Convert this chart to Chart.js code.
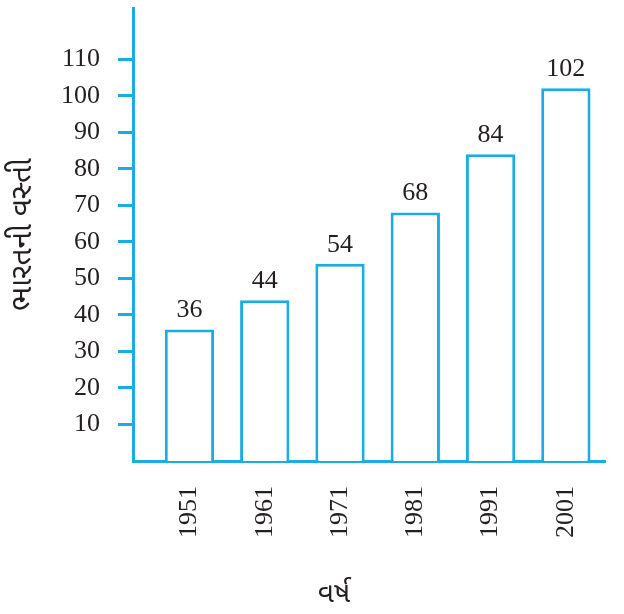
<!DOCTYPE html>
<html>
<head>
<meta charset="utf-8">
<script src="https://cdn.jsdelivr.net/npm/chart.js@4/dist/chart.umd.min.js"></script>
<style>
  html, body { margin: 0; padding: 0; background: #fff; }
  #wrap { width: 624px; height: 614px; }
</style>
</head>
<body>
<div id="wrap"><canvas id="chartPop" width="624" height="614"></canvas></div>
<script>
const years = [1951, 1961, 1971, 1981, 1991, 2001];
const population = [36, 44, 54, 68, 84, 102];
const yTicks = [10, 20, 30, 40, 50, 60, 70, 80, 90, 100, 110];
const yTitle = "ભારતની વસ્તી";
const xTitle = "વર્ષ";

const CYAN = "#1aace3";
const INK = "#231f20";
const NUM_FONT = "'Liberation Serif', 'Times New Roman', Times, serif";
const GU_FONT = "'Noto Sans Gujarati', 'Noto Serif Gujarati', 'Noto Sans', sans-serif";

const barLabels = {
    id: "barLabels",
    afterDatasetsDraw(chart) {
        const { ctx } = chart;
        const meta = chart.getDatasetMeta(0);
        ctx.save();
        ctx.font = "26px " + NUM_FONT;
        ctx.fillStyle = INK;
        ctx.textAlign = "center";
        ctx.textBaseline = "bottom";
        meta.data.forEach((bar, i) => {
            ctx.fillText(String(population[i]), bar.x, bar.y - 6);
        });
        ctx.restore();
    },
};

function draw() {
    new Chart(document.getElementById("chartPop"), {
        type: "bar",
        data: {
            datasets: [{
                data: years.map((y, i) => ({ x: y, y: population[i] })),
                backgroundColor: "#ffffff",
                borderColor: CYAN,
                borderWidth: 3,
                barPercentage: 0.655,
                categoryPercentage: 1,
            }],
        },
        options: {
            responsive: false,
            animation: false,
            layout: { padding: { top: 8, right: 19, left: 0, bottom: 0 } },
            plugins: { legend: { display: false }, tooltip: { enabled: false } },
            scales: {
                x: {
                    type: "linear",
                    offset: false,
                    min: 1943.5,
                    max: 2006.2,
                    afterBuildTicks: s => { s.ticks = years.map(v => ({ value: v })); },
                    afterFit: s => { s.height = 153; s.paddingLeft = 0; s.paddingRight = 0; },
                    grid: { display: false, drawTicks: false },
                    border: { display: true, color: CYAN, width: 3 },
                    ticks: {
                        autoSkip: false,
                        minRotation: 90,
                        maxRotation: 90,
                        padding: 25,
                        color: INK,
                        font: { family: NUM_FONT, size: 26 },
                        callback: v => String(v),
                    },
                    title: {
                        display: true,
                        // trailing em spaces nudge the centred title left, as in the original
                        text: xTitle + "\u2003\u2003\u2002",
                        color: INK,
                        font: { family: GU_FONT, size: 28 },
                        padding: { top: 0, bottom: 0 },
                    },
                },
                y: {
                    min: 0,
                    max: 124,
                    afterBuildTicks: s => { s.ticks = yTicks.map(v => ({ value: v })); },
                    afterFit: s => { s.width = 133; s.paddingTop = 0; s.paddingBottom = 0; },
                    grid: { drawOnChartArea: false, drawTicks: true, tickLength: 15, tickColor: CYAN, tickWidth: 3 },
                    border: { display: true, color: CYAN, width: 3 },
                    ticks: {
                        padding: 18,
                        color: INK,
                        font: { family: NUM_FONT, size: 26 },
                    },
                    title: {
                        display: true,
                        text: yTitle,
                        color: INK,
                        font: { family: GU_FONT, size: 30 },
                        padding: { top: 7, bottom: 0 },
                    },
                },
            },
        },
        plugins: [barLabels],
    });
}

Promise.all([
    document.fonts.load("26px 'Liberation Serif'"),
    document.fonts.load("30px 'Noto Sans Gujarati'"),
]).catch(() => {}).then(draw);
</script>
</body>
</html>
